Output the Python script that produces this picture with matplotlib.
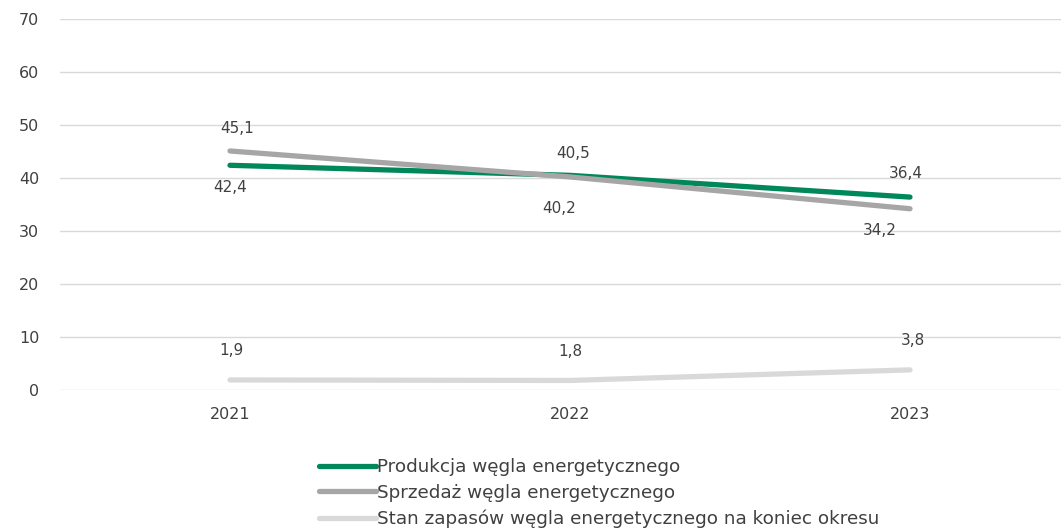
import matplotlib.pyplot as plt

# dane
lata = ['2021', '2022', '2023']
produkcja = [42.4, 40.5, 36.4]
sprzedaz = [45.1, 40.2, 34.2]
zapasy = [1.9, 1.8, 3.8]

nazwy = ['Produkcja węgla energetycznego',
         'Sprzedaż węgla energetycznego',
         'Stan zapasów węgla energetycznego na koniec okresu']
kolory = ['#00875A', '#A6A6A6', '#D9D9D9']

plt.rcParams['font.family'] = ['DejaVu Sans']

fig = plt.figure(figsize=(10.61, 5.28), dpi=100)
ax = fig.add_axes([60/1061, 1 - 390/528, 1001/1061, 371/528])

x = range(len(lata))
serie = [produkcja, sprzedaz, zapasy]
for dane, kolor, nazwa in zip(serie, kolory, nazwy):
    ax.plot(x, dane, color=kolor, lw=3.8, solid_capstyle='round', label=nazwa, zorder=3)

# etykiety danych (offset w punktach: (dx, dy))
przesuniecia = [[(0, -16), (2, 16), (-3, 17)],
                [(5, 16), (-8, -23), (-22, -16)],
                [(1, 21), (0, 21), (2, 21)]]
for dane, offs in zip(serie, przesuniecia):
    for i, (v, o) in enumerate(zip(dane, offs)):
        ax.annotate(f'{v:.1f}'.replace('.', ','), (i, v), xytext=o,
                    textcoords='offset points', ha='center', va='center',
                    fontsize=11, color='#404040')

ax.set_ylim(0, 70)
ax.set_yticks(range(0, 71, 10))
ax.set_xlim(-0.5, (1061 - 230) / 340)
ax.set_xticks(list(x))
ax.set_xticklabels(lata)
ax.grid(axis='y', color='#D9D9D9', lw=1)
ax.set_axisbelow(True)
for s in ax.spines.values():
    s.set_visible(False)
ax.tick_params(length=0, labelsize=11.5, labelcolor='#404040')
ax.tick_params(axis='y', pad=15)
ax.tick_params(axis='x', pad=12)

fig.legend(loc='upper left', bbox_to_anchor=(310/1061, 1 - 449/528), frameon=False,
           handlelength=3.1, handletextpad=0.05, labelspacing=0.42,
           fontsize=13.2, labelcolor='#404040', borderpad=0)

fig.savefig('out.png', dpi=100)
